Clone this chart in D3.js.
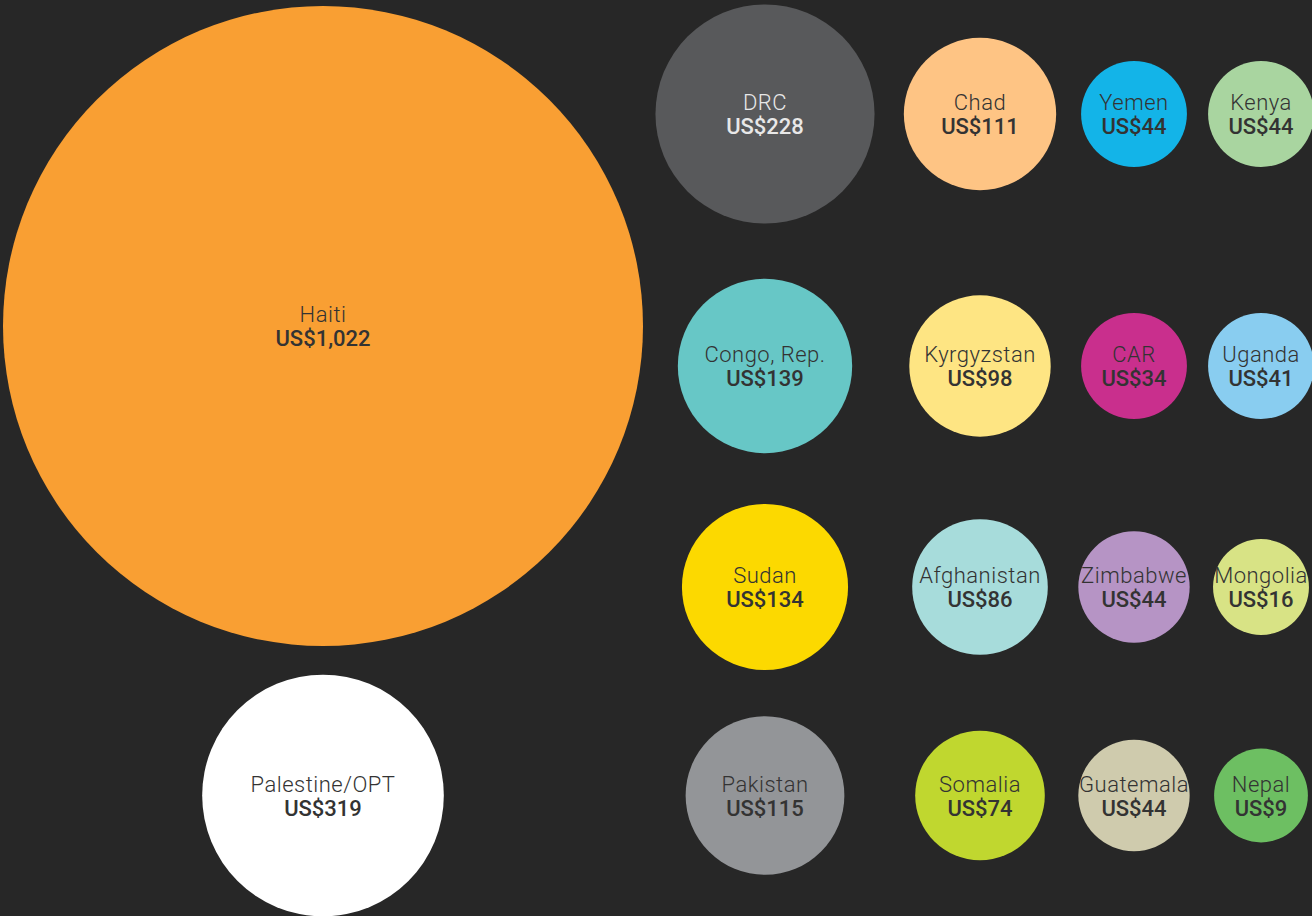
<!DOCTYPE html>
<html>
<head>
<meta charset="utf-8">
<script src="https://cdn.jsdelivr.net/npm/d3@7"></script>
<style>
  html, body { margin: 0; padding: 0; background: #272727; overflow: hidden; }
  svg { display: block; }
  text { font-family: "Roboto", "DejaVu Sans", sans-serif; }
</style>
</head>
<body>
<div class="main"></div>
<script>
// Countries, per-capita amounts shown in the labels
let countries = ["Haiti", "Palestine/OPT",
    "DRC", "Chad", "Yemen", "Kenya",
    "Congo, Rep.", "Kyrgyzstan", "CAR", "Uganda",
    "Sudan", "Afghanistan", "Zimbabwe", "Mongolia",
    "Pakistan", "Somalia", "Guatemala", "Nepal"];
let amounts = [1022, 319,
    228, 111, 44, 44,
    139, 98, 34, 41,
    134, 86, 44, 16,
    115, 74, 44, 9];
// bubble area weight (read off the circle sizes, not the labels)
let weights = [1024, 146,
    120, 58, 28, 28,
    76, 50, 28, 28,
    69, 46, 31, 23,
    63, 42, 31, 22];

// Colours, one per country
let colors = ["#f99f33", "#ffffff",
    "#58595b", "#fec484", "#13b4e8", "#a9d5a0",
    "#67c7c6", "#fee583", "#c92f8d", "#89cdf0",
    "#fcd900", "#a7dcdb", "#b694c5", "#d8e385",
    "#939598", "#c0d72f", "#cfcbad", "#6dbf62"];
let textColors = colors.map(c => c == "#58595b" ? "#e8e8e8" : "#333333");

// grid cell of each bubble: column 0 is the big left column
let gridCol = [0, 0, 1, 2, 3, 4, 1, 2, 3, 4, 1, 2, 3, 4, 1, 2, 3, 4];
let gridRow = [0, 4, 1, 1, 1, 1, 2, 2, 2, 2, 3, 3, 3, 3, 4, 4, 4, 4];

let width = 1312, height = 916;

let svg = d3.select("div.main").append("svg")
    .attr("width", width)
    .attr("height", height);

svg.append("rect")
    .attr("width", width)
    .attr("height", height)
    .attr("fill", "#272727");

// Scales
let r = d3.scaleSqrt().domain([0, 1024]).range([0, 320]);
let x = d3.scaleOrdinal().domain([0, 1, 2, 3, 4]).range([323, 765, 980, 1134, 1261]);
let y = d3.scaleOrdinal().domain([0, 1, 2, 3, 4]).range([326, 114, 366, 587, 795.5]);

let fmt = d3.format(",");

let data = countries.map((c, i) => ({
    name: c, amount: amounts[i], weight: weights[i],
    color: colors[i], text: textColors[i], col: gridCol[i], row: gridRow[i]
}));

let g = svg.selectAll("g.bubble")
    .data(data)
    .enter().append("g")
    .attr("class", "bubble")
    .attr("transform", d => "translate(" + x(d.col) + "," + y(d.row) + ")");

g.append("circle")
    .attr("r", d => r(d.weight))
    .attr("fill", d => d.color);

// country name
g.append("text")
    .attr("text-anchor", "middle")
    .attr("y", -4)
    .attr("font-size", 22)
    .attr("font-weight", 300)
    .attr("letter-spacing", 0.5)
    .attr("fill", d => d.text)
    .text(d => d.name);

// amount
g.append("text")
    .attr("text-anchor", "middle")
    .attr("y", 20)
    .attr("font-size", 22)
    .attr("font-weight", 500)
    .attr("fill", d => d.text)
    .text(d => "US$" + fmt(d.amount));
</script>
</body>
</html>
